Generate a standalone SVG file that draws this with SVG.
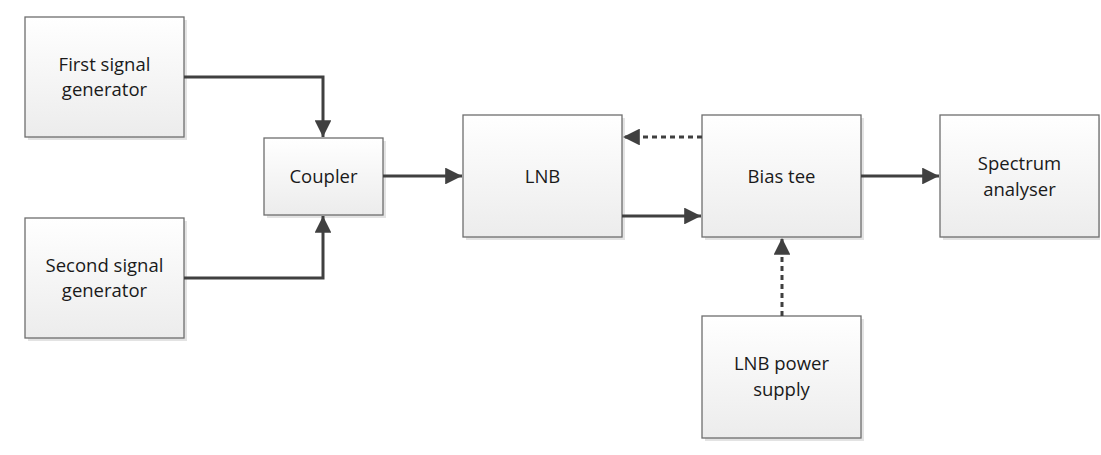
<svg xmlns="http://www.w3.org/2000/svg" width="1101" height="455" viewBox="0 0 1101 455">
  <style>
    .box { fill: url(#boxFill); stroke: #6e6e6e; stroke-width: 1.3; }
    .shadow { fill: #e3e3e3; }
    .label { font-family: "Open Sans", "Noto Sans", sans-serif; font-size: 18.5px; fill: #1a1a1a; text-anchor: middle; }
    .wire { fill: none; stroke: #404040; stroke-width: 3; }
    .dash { stroke-dasharray: 5 4; }
  </style>
  <defs>
    <linearGradient id="boxFill" x1="0" y1="0" x2="0" y2="1">
      <stop offset="0" stop-color="#ffffff"/>
      <stop offset="1" stop-color="#ececec"/>
    </linearGradient>
    <marker id="arrow" viewBox="0 0 10 10" refX="10" refY="5" markerWidth="5.6" markerHeight="5.6" orient="auto" markerUnits="strokeWidth">
      <path d="M0,0 L10,5 L0,10 z" fill="#404040"/>
    </marker>
  </defs>

  <g id="first-signal-generator">
    <rect class="shadow" x="28" y="20" width="159" height="120"/>
    <rect class="box" x="25" y="17" width="159" height="120"/>
    <text class="label" x="104.5" y="71">First signal</text>
    <text class="label" x="104.5" y="96">generator</text>
  </g>

  <g id="second-signal-generator">
    <rect class="shadow" x="28" y="221" width="159" height="120"/>
    <rect class="box" x="25" y="218" width="159" height="120"/>
    <text class="label" x="104.5" y="272">Second signal</text>
    <text class="label" x="104.5" y="297">generator</text>
  </g>

  <g id="coupler">
    <rect class="shadow" x="267" y="141" width="119" height="77"/>
    <rect class="box" x="264" y="138" width="119" height="77"/>
    <text class="label" x="323.5" y="183">Coupler</text>
  </g>

  <g id="lnb">
    <rect class="shadow" x="466" y="118" width="159" height="122"/>
    <rect class="box" x="463" y="115" width="159" height="122"/>
    <text class="label" x="542.5" y="183">LNB</text>
  </g>

  <g id="bias-tee">
    <rect class="shadow" x="705" y="118" width="159" height="122"/>
    <rect class="box" x="702" y="115" width="159" height="122"/>
    <text class="label" x="781.5" y="183">Bias tee</text>
  </g>

  <g id="spectrum-analyser">
    <rect class="shadow" x="943" y="118" width="157" height="122"/>
    <rect class="box" x="940" y="115" width="159" height="122"/>
    <text class="label" x="1019.5" y="170">Spectrum</text>
    <text class="label" x="1019.5" y="196">analyser</text>
  </g>

  <g id="lnb-power-supply">
    <rect class="shadow" x="705" y="319" width="159" height="122"/>
    <rect class="box" x="702" y="316" width="159" height="122"/>
    <text class="label" x="781.5" y="370">LNB power</text>
    <text class="label" x="781.5" y="396">supply</text>
  </g>

  <g id="connectors">
    <path class="wire" d="M184,77 H323 V137" marker-end="url(#arrow)"/>
    <path class="wire" d="M184,278 H323 V216" marker-end="url(#arrow)"/>
    <path class="wire" d="M383,176 H462" marker-end="url(#arrow)"/>
    <path class="wire dash" d="M702,137 H623" marker-end="url(#arrow)"/>
    <path class="wire" d="M622,216 H701" marker-end="url(#arrow)"/>
    <path class="wire" d="M861,176 H939" marker-end="url(#arrow)"/>
    <path class="wire dash" d="M782,316 V238" marker-end="url(#arrow)"/>
  </g>
</svg>
